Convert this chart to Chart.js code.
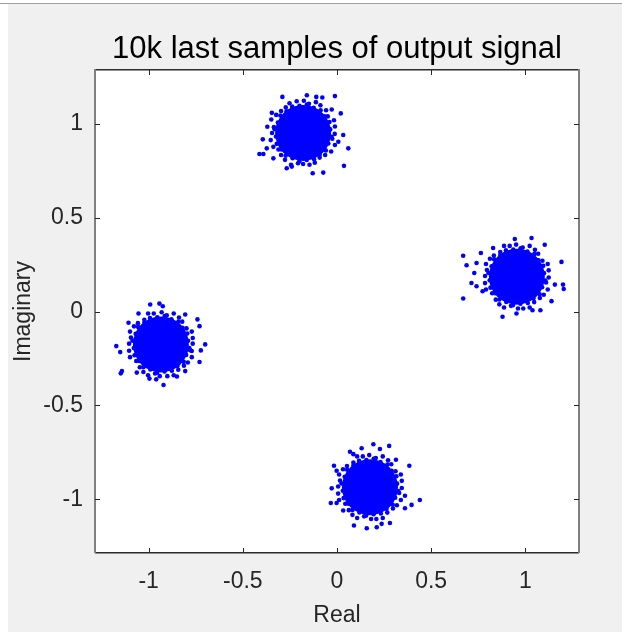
<!DOCTYPE html>
<html>
<head>
<meta charset="utf-8">
<script src="https://cdn.jsdelivr.net/npm/chart.js@4.4.1/dist/chart.umd.min.js"></script>
<style>
  html, body { margin: 0; padding: 0; background: #ffffff; }
  canvas { display: block; }
</style>
</head>
<body>
<canvas id="constellation" width="622" height="632"></canvas>
<script>
const chartTitle = '10k last samples of output signal';
const xLabel = 'Real';
const yLabel = 'Imaginary';
const axisMin = -1.285;
const axisMax = 1.285;
const tickValues = [-1, -0.5, 0, 0.5, 1];
const tickLabels = ['-1', '-0.5', '0', '0.5', '1'];

// centre of each cluster (solid part drawn as one big dot)
const clusterCentres = [[-0.18, 0.95], [0.955, 0.185], [-0.935, -0.175], [0.175, -0.935]];

// dense rim just outside the solid part
const topRim = [[-0.036,0.969],[-0.040,1.008],[-0.065,1.038],[-0.087,1.071],[-0.124,1.084],[-0.160,1.101],[-0.199,1.094],[-0.238,1.090],
  [-0.268,1.065],[-0.301,1.043],[-0.314,1.006],[-0.331,0.970],[-0.324,0.931],[-0.320,0.892],[-0.295,0.862],[-0.273,0.829],
  [-0.236,0.816],[-0.200,0.799],[-0.161,0.806],[-0.122,0.810],[-0.092,0.835],[-0.059,0.857],[-0.046,0.894],[-0.029,0.930]];
const rightRim = [[1.099,0.204],[1.095,0.243],[1.070,0.273],[1.048,0.306],[1.011,0.319],[0.975,0.336],[0.936,0.329],[0.897,0.325],
  [0.867,0.300],[0.834,0.278],[0.821,0.241],[0.804,0.205],[0.811,0.166],[0.815,0.127],[0.840,0.097],[0.862,0.064],
  [0.899,0.051],[0.935,0.034],[0.974,0.041],[1.013,0.045],[1.043,0.070],[1.076,0.092],[1.089,0.129],[1.106,0.165]];
const leftRim = [[-0.791,-0.156],[-0.795,-0.117],[-0.820,-0.087],[-0.842,-0.054],[-0.879,-0.041],[-0.915,-0.024],[-0.954,-0.031],[-0.993,-0.035],
  [-1.023,-0.060],[-1.056,-0.082],[-1.069,-0.119],[-1.086,-0.155],[-1.079,-0.194],[-1.075,-0.233],[-1.050,-0.263],[-1.028,-0.296],
  [-0.991,-0.309],[-0.955,-0.326],[-0.916,-0.319],[-0.877,-0.315],[-0.847,-0.290],[-0.814,-0.268],[-0.801,-0.231],[-0.784,-0.195]];
const bottomRim = [[0.319,-0.916],[0.315,-0.877],[0.290,-0.847],[0.268,-0.814],[0.231,-0.801],[0.195,-0.784],[0.156,-0.791],[0.117,-0.795],
  [0.087,-0.820],[0.054,-0.842],[0.041,-0.879],[0.024,-0.915],[0.031,-0.954],[0.035,-0.993],[0.060,-1.023],[0.082,-1.056],
  [0.119,-1.069],[0.155,-1.086],[0.194,-1.079],[0.233,-1.075],[0.263,-1.050],[0.296,-1.028],[0.309,-0.991],[0.326,-0.955]];

// ragged outer edge of each cluster
const topEdge = [[-0.012,0.945],[-0.016,1.018],[-0.058,1.071],[-0.112,1.114],[-0.176,1.121],[-0.252,1.108],[-0.297,1.067],[-0.349,1.022],
  [-0.345,0.950],[-0.338,0.876],[-0.297,0.833],[-0.244,0.781],[-0.180,0.785],[-0.118,0.792],[-0.063,0.833],[-0.011,0.886],
  [-0.011,0.984],[-0.049,1.038],[-0.088,1.097],[-0.149,1.105],[-0.214,1.119],[-0.272,1.086],[-0.323,1.046],[-0.335,0.981],
  [-0.352,0.912],[-0.311,0.862],[-0.276,0.807],[-0.207,0.789],[-0.146,0.781],[-0.092,0.819],[-0.031,0.851],[-0.025,0.919]];
const rightEdge = [[1.124,0.181],[1.119,0.253],[1.068,0.307],[1.023,0.349],[0.951,0.356],[0.887,0.349],[0.833,0.298],[0.791,0.253],
  [0.786,0.189],[0.791,0.117],[0.843,0.063],[0.887,0.021],[0.961,0.016],[1.023,0.021],[1.077,0.072],[1.119,0.117],
  [1.124,0.219],[1.091,0.270],[1.051,0.328],[0.986,0.340],[0.917,0.349],[0.867,0.316],[0.812,0.281],[0.796,0.221],
  [0.786,0.151],[0.824,0.097],[0.862,0.038],[0.924,0.030],[0.989,0.016],[1.047,0.050],[1.098,0.089],[1.110,0.154]];
const leftEdge = [[-0.766,-0.171],[-0.771,-0.107],[-0.822,-0.054],[-0.867,-0.011],[-0.931,-0.004],[-1.003,-0.011],[-1.057,-0.062],[-1.099,-0.107],
  [-1.104,-0.171],[-1.099,-0.243],[-1.047,-0.297],[-1.003,-0.339],[-0.941,-0.344],[-0.867,-0.339],[-0.813,-0.288],[-0.771,-0.243],
  [-0.766,-0.141],[-0.799,-0.090],[-0.839,-0.032],[-0.904,-0.020],[-0.973,-0.011],[-1.023,-0.044],[-1.078,-0.079],[-1.094,-0.139],
  [-1.104,-0.209],[-1.066,-0.263],[-1.028,-0.322],[-0.966,-0.330],[-0.901,-0.344],[-0.843,-0.310],[-0.792,-0.271],[-0.780,-0.206]];
const bottomEdge = [[0.344,-0.939],[0.339,-0.867],[0.288,-0.813],[0.243,-0.771],[0.171,-0.764],[0.107,-0.771],[0.053,-0.822],[0.011,-0.867],
  [0.006,-0.931],[0.011,-1.003],[0.063,-1.057],[0.107,-1.099],[0.181,-1.104],[0.243,-1.099],[0.297,-1.048],[0.339,-1.003],
  [0.344,-0.901],[0.311,-0.850],[0.271,-0.792],[0.206,-0.780],[0.137,-0.771],[0.087,-0.804],[0.032,-0.839],[0.016,-0.899],
  [0.006,-0.969],[0.044,-1.023],[0.082,-1.082],[0.144,-1.090],[0.209,-1.104],[0.267,-1.070],[0.318,-1.031],[0.330,-0.966]];

// stray samples outside the blobs
const topStray = [[-0.29,1.142],[-0.16,1.151],[-0.11,1.142],[-0.078,1.139],[-0.011,1.146],[-0.346,1.057],[0.02,1.054],[-0.028,1.075],
  [-0.394,0.916],[-0.373,0.868],[-0.412,0.838],[-0.391,0.838],[-0.338,0.815],[0.06,0.868],[0.033,0.939],[0.007,0.903],
  [0.037,0.775],[-0.129,0.736],[-0.073,0.739],[-0.267,0.762],[-0.24,0.771],[-0.37,0.983]];
const rightStray = [[0.67,0.297],[0.688,0.246],[0.764,0.311],[0.741,0.258],[0.729,0.205],[0.714,0.152],[0.741,0.134],[0.67,0.069],
  [0.773,0.108],[1.033,0.391],[1.103,0.355],[1.192,0.264],[1.2,0.143],[1.204,0.12],[1.139,0.055],[1.08,0.007],
  [1.038,0.007],[0.879,-0.028],[0.953,-0.011],[1.157,0.143],[0.829,0.338],[0.944,0.386]];
const leftStray = [[-0.992,0.037],[-0.943,0.042],[-0.925,0.028],[-1.054,-0.011],[-0.806,-0.016],[-0.741,-0.042],[-0.73,-0.078],[-1.172,-0.184],
  [-1.151,-0.216],[-0.7,-0.175],[-0.723,-0.207],[-0.73,-0.269],[-1.142,-0.317],[-1.148,-0.329],[-1.063,-0.325],[-0.996,-0.357],
  [-0.96,-0.361],[-0.921,-0.391],[-0.85,-0.346],[-0.806,-0.317],[-0.771,-0.21],[-1.107,-0.06]];
const bottomStray = [[0.193,-0.706],[0.277,-0.715],[0.069,-0.746],[0.131,-0.728],[0.228,-0.732],[0.087,-0.759],[0.313,-0.789],[0.384,-0.821],
  [-0.016,-0.821],[-0.002,-0.847],[-0.028,-0.941],[-0.033,-1.019],[-0.002,-1.019],[0.44,-1.003],[0.396,-1.029],[0.361,-1.047],
  [0.361,-0.98],[0.033,-1.059],[0.09,-1.139],[0.158,-1.153],[0.211,-1.148],[0.281,-1.125],[0.237,-1.13]];

const FONT = '"Liberation Sans", Arial, Helvetica, sans-serif';
const BLUE = '#0000ff';

function toPoints(...lists) {
    const out = [];
    lists.forEach(list => list.forEach(p => out.push({ x: p[0], y: p[1] })));
    return out;
}

function dotSet(label, data, radius) {
    return {
        label: label,
        data: data,
        pointRadius: radius,
        pointHoverRadius: radius,
        pointBorderWidth: 0,
        backgroundColor: BLUE,
        borderColor: BLUE
    };
}

// MATLAB style figure: grey background, boxed axes, inward ticks, plain text labels
const matlabFrame = {
    id: 'matlabFrame',
    beforeDraw(chart) {
        const ctx = chart.ctx;
        const a = chart.chartArea;
        ctx.save();
        ctx.fillStyle = '#ffffff';
        ctx.fillRect(0, 0, chart.width, chart.height);
        ctx.fillStyle = '#f0f0f0';
        ctx.fillRect(8, 4, chart.width - 8, chart.height - 4);
        ctx.fillStyle = '#a0a0a0';
        ctx.fillRect(0, 3, chart.width, 1);
        ctx.fillStyle = '#ffffff';
        ctx.fillRect(a.left, a.top, a.right - a.left, a.bottom - a.top);
        ctx.restore();
    },
    afterDraw(chart) {
        const ctx = chart.ctx;
        const a = chart.chartArea;
        const xs = chart.scales.x;
        const ys = chart.scales.y;
        ctx.save();

        // box
        ctx.fillStyle = '#2b2b2b';
        ctx.fillRect(a.left, a.top - 1, a.right - a.left, 1.5);
        ctx.fillRect(a.left, a.bottom - 1, a.right - a.left, 1.5);
        ctx.fillStyle = '#808080';
        ctx.fillRect(a.left - 1, a.top - 1, 2, a.bottom - a.top + 1);
        ctx.fillRect(a.right - 1, a.top - 1, 2, a.bottom - a.top + 1);

        // inward ticks on all four sides
        ctx.strokeStyle = '#262626';
        ctx.lineWidth = 1;
        ctx.beginPath();
        tickValues.forEach(v => {
            const px = Math.round(xs.getPixelForValue(v)) + 0.5;
            ctx.moveTo(px, a.bottom); ctx.lineTo(px, a.bottom - 5);
            ctx.moveTo(px, a.top); ctx.lineTo(px, a.top + 5);
            const py = Math.round(ys.getPixelForValue(v)) + 0.5;
            ctx.moveTo(a.left, py); ctx.lineTo(a.left + 5, py);
            ctx.moveTo(a.right, py); ctx.lineTo(a.right - 5, py);
        });
        ctx.stroke();

        // title and axis labels
        const cx = (a.left + a.right) / 2;
        ctx.fillStyle = '#000000';
        ctx.textAlign = 'center';
        ctx.textBaseline = 'alphabetic';
        ctx.font = '31px ' + FONT;
        ctx.fillText(chartTitle, cx, 58);

        ctx.fillStyle = '#262626';
        ctx.font = '23px ' + FONT;
        ctx.textBaseline = 'middle';
        ctx.fillText(xLabel, cx, 616);

        ctx.translate(24, (a.top + a.bottom) / 2);
        ctx.rotate(-Math.PI / 2);
        ctx.fillText(yLabel, 0, 0);
        ctx.restore();
    }
};

function axisOptions(isX) {
    return {
        type: 'linear',
        min: axisMin,
        max: axisMax,
        afterFit: scale => {
            if (isX) scale.height = 79;
            else scale.width = 95;
        },
        afterBuildTicks: scale => {
            scale.ticks = tickValues.map(v => ({ value: v }));
        },
        grid: { display: false, drawTicks: false },
        border: { display: false },
        ticks: {
            autoSkip: false,
            maxRotation: 0,
            padding: isX ? 15 : 12,
            color: '#262626',
            font: { family: FONT, size: 23 },
            callback: (value, index) => tickLabels[index]
        }
    };
}

new Chart(document.getElementById('constellation'), {
    type: 'scatter',
    data: {
        datasets: [
            dotSet('core', toPoints(clusterCentres), 28),
            dotSet('rim', toPoints(topRim, rightRim, leftRim, bottomRim), 2.3),
            dotSet('edge', toPoints(topEdge, rightEdge, leftEdge, bottomEdge), 2.3),
            dotSet('stray', toPoints(topStray, rightStray, leftStray, bottomStray), 2.3)
        ]
    },
    options: {
        responsive: false,
        animation: false,
        events: [],
        layout: { padding: { top: 70, right: 43, bottom: 0, left: 0 } },
        plugins: {
            legend: { display: false },
            tooltip: { enabled: false },
            title: { display: false }
        },
        scales: {
            x: axisOptions(true),
            y: axisOptions(false)
        }
    },
    plugins: [matlabFrame]
});
</script>
</body>
</html>
